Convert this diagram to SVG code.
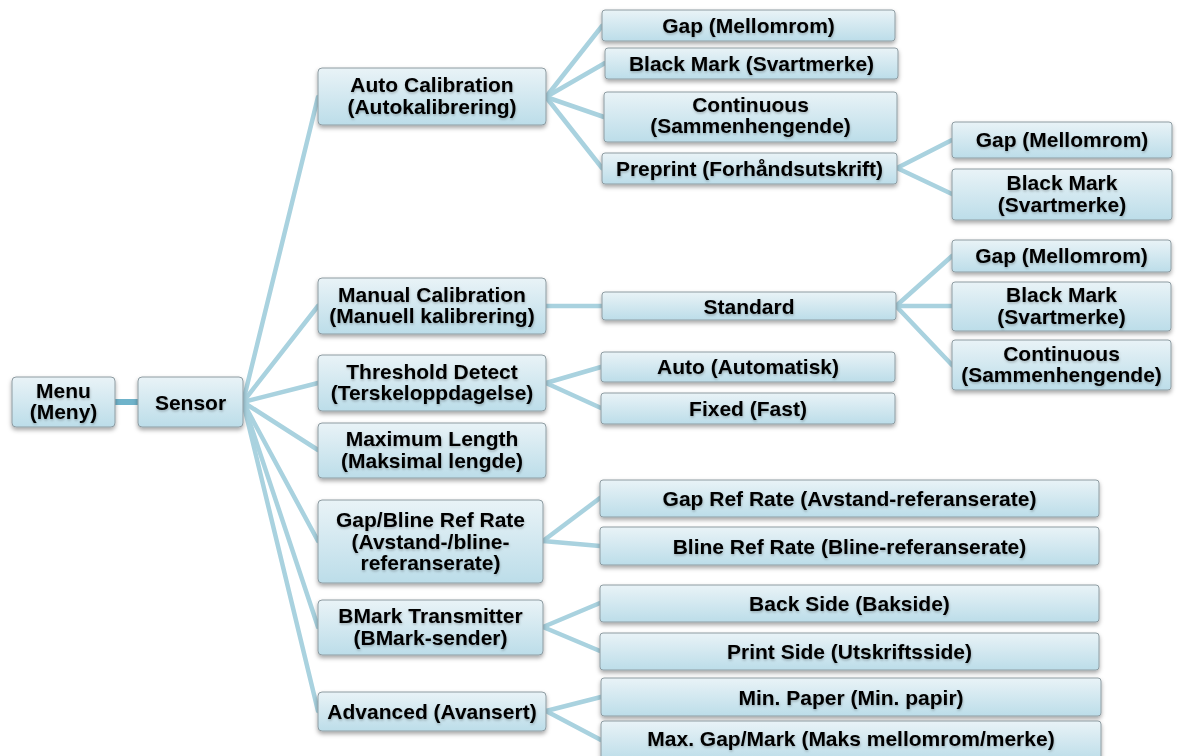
<svg xmlns="http://www.w3.org/2000/svg" width="1177" height="756" viewBox="0 0 1177 756">
<style>
.box{fill:url(#g);stroke:#8e9ca2;stroke-width:1;filter:url(#sh)}
.t{font-family:"Liberation Sans",Arial,sans-serif;font-weight:bold;font-size:21px;fill:#000;text-anchor:middle;filter:url(#ts)}
.c{stroke:#a9d2df;stroke-width:4.5;fill:none;stroke-linecap:round}
.c0{stroke:#6fb3ca;stroke-width:6;fill:none}
</style>
<defs>
<linearGradient id="g" x1="0" y1="0" x2="0" y2="1">
<stop offset="0" stop-color="#e9f3f7"/>
<stop offset="1" stop-color="#bcdde9"/>
</linearGradient>
<filter id="sh" x="-10%" y="-20%" width="120%" height="160%">
<feDropShadow dx="0" dy="2.5" stdDeviation="2" flood-color="#000" flood-opacity="0.35"/>
</filter>
<filter id="ts" x="-5%" y="-30%" width="110%" height="160%">
<feDropShadow dx="0.5" dy="1.5" stdDeviation="1" flood-color="#000" flood-opacity="0.25"/>
</filter>
</defs>
<rect width="1177" height="756" fill="#fff"/>
<g id="connectors">
<line class="c0" x1="115" y1="402" x2="138" y2="402"/>
<line class="c" x1="243" y1="402" x2="318" y2="97"/>
<line class="c" x1="243" y1="402" x2="318" y2="306"/>
<line class="c" x1="243" y1="402" x2="318" y2="383"/>
<line class="c" x1="243" y1="402" x2="318" y2="450"/>
<line class="c" x1="243" y1="402" x2="318" y2="541"/>
<line class="c" x1="243" y1="402" x2="318" y2="627"/>
<line class="c" x1="243" y1="402" x2="318" y2="711"/>
<line class="c" x1="546" y1="97" x2="602" y2="26"/>
<line class="c" x1="546" y1="97" x2="605" y2="63"/>
<line class="c" x1="546" y1="97" x2="604" y2="117"/>
<line class="c" x1="546" y1="97" x2="602" y2="168"/>
<line class="c" x1="897" y1="168" x2="952" y2="140"/>
<line class="c" x1="897" y1="168" x2="952" y2="194"/>
<line class="c" x1="546" y1="306" x2="602" y2="306"/>
<line class="c" x1="896" y1="306" x2="952" y2="256"/>
<line class="c" x1="896" y1="306" x2="952" y2="306"/>
<line class="c" x1="896" y1="306" x2="952" y2="365"/>
<line class="c" x1="546" y1="383" x2="601" y2="367"/>
<line class="c" x1="546" y1="383" x2="601" y2="408"/>
<line class="c" x1="543" y1="541" x2="600" y2="498"/>
<line class="c" x1="543" y1="541" x2="600" y2="546"/>
<line class="c" x1="543" y1="627" x2="600" y2="603"/>
<line class="c" x1="543" y1="627" x2="600" y2="651"/>
<line class="c" x1="546" y1="711" x2="601" y2="697"/>
<line class="c" x1="546" y1="711" x2="601" y2="740"/>
</g>
<g id="menu"><rect class="box" x="12" y="377" width="103" height="50" rx="4"/><text class="t" x="63.5" y="398">Menu</text><text class="t" x="63.5" y="419">(Meny)</text></g>
<g id="sensor"><rect class="box" x="138" y="377" width="105" height="50" rx="4"/><text class="t" x="190.5" y="409.5">Sensor</text></g>
<g id="auto_cal"><rect class="box" x="318" y="68" width="228" height="57" rx="4"/><text class="t" x="432" y="92">Auto Calibration</text><text class="t" x="432" y="113.5">(Autokalibrering)</text></g>
<g id="manual_cal"><rect class="box" x="318" y="278" width="228" height="56" rx="4"/><text class="t" x="432" y="301.5">Manual Calibration</text><text class="t" x="432" y="323">(Manuell kalibrering)</text></g>
<g id="threshold"><rect class="box" x="318" y="355" width="228" height="56" rx="4"/><text class="t" x="432" y="378.5">Threshold Detect</text><text class="t" x="432" y="400">(Terskeloppdagelse)</text></g>
<g id="max_length"><rect class="box" x="318" y="423" width="228" height="55" rx="4"/><text class="t" x="432" y="446">Maximum Length</text><text class="t" x="432" y="467.5">(Maksimal lengde)</text></g>
<g id="gap_bline"><rect class="box" x="318" y="500" width="225" height="83" rx="4"/><text class="t" x="430.5" y="527">Gap/Bline Ref Rate</text><text class="t" x="430.5" y="548.5">(Avstand-/bline-</text><text class="t" x="430.5" y="570">referanserate)</text></g>
<g id="bmark"><rect class="box" x="318" y="600" width="225" height="55" rx="4"/><text class="t" x="430.5" y="623">BMark Transmitter</text><text class="t" x="430.5" y="644.5">(BMark-sender)</text></g>
<g id="advanced"><rect class="box" x="318" y="692" width="228" height="39" rx="4"/><text class="t" x="432" y="719">Advanced (Avansert)</text></g>
<g id="ac_gap"><rect class="box" x="602" y="10" width="293" height="31" rx="3"/><text class="t" x="748.5" y="33">Gap (Mellomrom)</text></g>
<g id="ac_black"><rect class="box" x="605" y="48" width="293" height="31" rx="3"/><text class="t" x="751.5" y="71">Black Mark (Svartmerke)</text></g>
<g id="ac_cont"><rect class="box" x="604" y="92" width="293" height="50" rx="3"/><text class="t" x="750.5" y="111.5">Continuous</text><text class="t" x="750.5" y="133">(Sammenhengende)</text></g>
<g id="ac_preprint"><rect class="box" x="602" y="153" width="295" height="31" rx="3"/><text class="t" x="749.5" y="176">Preprint (Forhåndsutskrift)</text></g>
<g id="pp_gap"><rect class="box" x="952" y="122" width="220" height="36" rx="3"/><text class="t" x="1062" y="147">Gap (Mellomrom)</text></g>
<g id="pp_black"><rect class="box" x="952" y="169" width="220" height="51" rx="3"/><text class="t" x="1062" y="190">Black Mark</text><text class="t" x="1062" y="211.5">(Svartmerke)</text></g>
<g id="standard"><rect class="box" x="602" y="292" width="294" height="28" rx="3"/><text class="t" x="749" y="313.5">Standard</text></g>
<g id="st_gap"><rect class="box" x="952" y="240" width="219" height="32" rx="3"/><text class="t" x="1061.5" y="263">Gap (Mellomrom)</text></g>
<g id="st_black"><rect class="box" x="952" y="282" width="219" height="49" rx="3"/><text class="t" x="1061.5" y="302">Black Mark</text><text class="t" x="1061.5" y="323.5">(Svartmerke)</text></g>
<g id="st_cont"><rect class="box" x="952" y="340" width="219" height="50" rx="3"/><text class="t" x="1061.5" y="360.5">Continuous</text><text class="t" x="1061.5" y="382">(Sammenhengende)</text></g>
<g id="td_auto"><rect class="box" x="601" y="352" width="294" height="30" rx="3"/><text class="t" x="748" y="374">Auto (Automatisk)</text></g>
<g id="td_fixed"><rect class="box" x="601" y="393" width="294" height="31" rx="3"/><text class="t" x="748" y="416">Fixed (Fast)</text></g>
<g id="gb_gap"><rect class="box" x="600" y="480" width="499" height="37" rx="3"/><text class="t" x="849.5" y="506">Gap Ref Rate (Avstand-referanserate)</text></g>
<g id="gb_bline"><rect class="box" x="600" y="527" width="499" height="38" rx="3"/><text class="t" x="849.5" y="553.5">Bline Ref Rate (Bline-referanserate)</text></g>
<g id="bm_back"><rect class="box" x="600" y="585" width="499" height="37" rx="3"/><text class="t" x="849.5" y="611">Back Side (Bakside)</text></g>
<g id="bm_print"><rect class="box" x="600" y="633" width="499" height="37" rx="3"/><text class="t" x="849.5" y="659">Print Side (Utskriftsside)</text></g>
<g id="adv_min"><rect class="box" x="601" y="678" width="500" height="38" rx="3"/><text class="t" x="851" y="704.5">Min. Paper (Min. papir)</text></g>
<g id="adv_max"><rect class="box" x="601" y="721" width="500" height="40" rx="3"/><text class="t" x="851" y="746">Max. Gap/Mark (Maks mellomrom/merke)</text></g>
</svg>
